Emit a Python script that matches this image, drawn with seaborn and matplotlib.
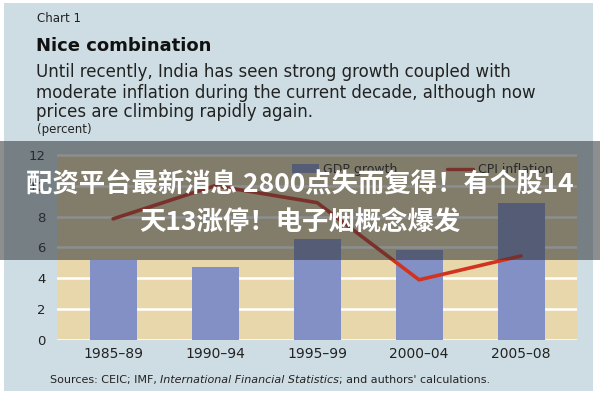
import numpy as np
import matplotlib
matplotlib.use("Agg")
import matplotlib.pyplot as plt
import seaborn as sns
import pandas as pd
from matplotlib.patches import Rectangle, Patch
from matplotlib.lines import Line2D

# Data
periods = ["1985–89", "1990–94", "1995–99", "2000–04", "2005–08"]
gdp_growth = [5.2, 4.75, 6.55, 5.8, 8.85]
cpi = [7.85, 10.0, 8.9, 3.9, 5.45]
yticks = [0, 2, 4, 6, 8, 10, 12]
subtitle = ["Until recently, India has seen strong growth coupled with",
            "moderate inflation during the current decade, although now",
            "prices are climbing rapidly again."]

df = pd.DataFrame({"period": periods, "gdp": gdp_growth, "cpi": cpi})

sns.set_style("white")
plt.rcParams['font.family'] = ['DejaVu Sans']

panel = "#cedde3"
beige = "#e8d7aa"
bar_col = "#8390c5"
line_col = "#d2331f"
txt = "#222222"

fig = plt.figure(figsize=(6, 4), dpi=100)
fig.patch.set_facecolor("white")
fig.add_artist(Rectangle((0.006, 0.022), 0.982, 0.97, transform=fig.transFigure,
                         facecolor=panel, edgecolor="none", zorder=-5))

ax = fig.add_axes([0.095, 0.15, 0.867, 0.468])
ax.set_facecolor(beige)

sns.barplot(data=df, x="period", y="gdp", color=bar_col, width=0.46,
            saturation=1, linewidth=0, ax=ax, zorder=3)
sns.lineplot(data=df, x="period", y="cpi", color=line_col, linewidth=2.6,
             sort=False, ax=ax, zorder=4)

ax.set_ylim(0, 12.13)
ax.set_xlim(-0.55, 4.55)
ax.set_yticks(yticks)
ax.yaxis.grid(True, color="white", linewidth=1.8, zorder=1)
ax.set_axisbelow(True)
for s in ax.spines.values():
    s.set_visible(False)
ax.set_xlabel("")
ax.set_ylabel("")
ax.tick_params(axis="y", length=0, labelsize=9.5, pad=8, labelcolor=txt)
ax.tick_params(axis="x", which="major", length=0, labelsize=10, pad=5, labelcolor=txt)
ax.set_xticks(np.arange(-0.5, 5, 1), minor=True)
ax.tick_params(axis="x", which="minor", direction="in", length=4, width=1.2, color="#444444")

# legend
handles = [Patch(facecolor=bar_col, edgecolor="none"),
           Line2D([0], [0], color=line_col, linewidth=2.4)]
ax.legend(handles, ["GDP growth", "CPI inflation"], ncol=2, frameon=False,
          loc="center left", bbox_to_anchor=(0.487, 0.576), bbox_transform=fig.transFigure,
          borderpad=0, borderaxespad=0, fontsize=9, handlelength=2.15,
          columnspacing=3.9, handletextpad=0.35, labelcolor=txt)

# header text
fig.text(0.061, 0.953, "Chart 1", fontsize=8.5, color=txt, va="center")
fig.text(0.06, 0.885, "Nice combination", fontsize=13, fontweight="bold", color="#111111", va="center")
for i, line in enumerate(subtitle):
    fig.text(0.06, [0.82, 0.768, 0.72][i], line, fontsize=12, color=txt, va="center")
fig.text(0.061, 0.675, "(percent)", fontsize=8.5, color=txt, va="center")

# sources line
t1 = fig.text(0.083, 0.042, "Sources: CEIC; IMF, ", fontsize=8, color=txt, va="baseline")
t2 = ax.annotate("International Financial Statistics", xy=(1, 0), xycoords=t1,
                 fontsize=8, style="italic", color=txt, va="bottom", annotation_clip=False)
ax.annotate("; and authors' calculations.", xy=(1, 0), xycoords=t2,
            fontsize=8, color=txt, va="bottom", annotation_clip=False)

# dark overlay band with banner text
fig.add_artist(Rectangle((0, 0.35), 1, 0.2975, transform=fig.transFigure,
                         facecolor="#2e3236", alpha=0.55, edgecolor="none", zorder=10))
cjk = ['Noto Sans CJK SC', 'DejaVu Sans']
fig.text(0.5, 0.538, "配资平台最新消息 2800点失而复得！有个股14", fontsize=19,
         fontweight="bold", color="white", ha="center", va="center", family=cjk, zorder=11)
fig.text(0.5, 0.445, "天13涨停！电子烟概念爆发", fontsize=19,
         fontweight="bold", color="white", ha="center", va="center", family=cjk, zorder=11)

fig.savefig("out.png", dpi=100, facecolor=fig.get_facecolor())
